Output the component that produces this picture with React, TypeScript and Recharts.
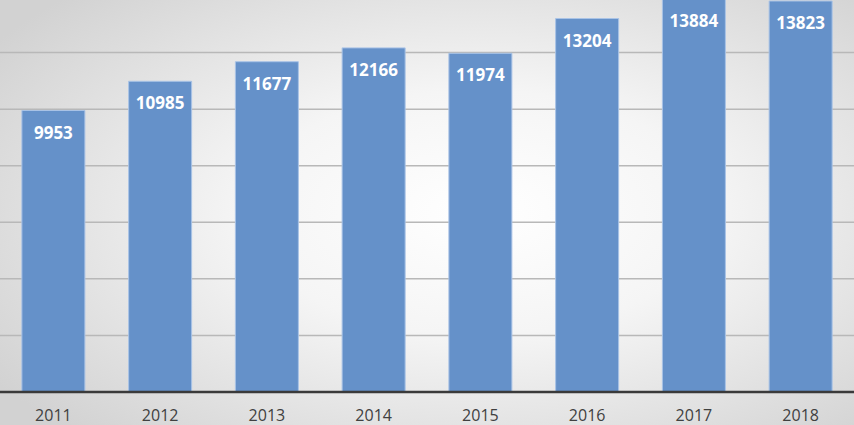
import React from 'react';
import { BarChart, Bar, XAxis, YAxis, CartesianGrid, LabelList } from 'recharts';

const years = ['2011', '2012', '2013', '2014', '2015', '2016', '2017', '2018'];
const counts = [9953, 10985, 11677, 12166, 11974, 13204, 13884, 13823];
const yTicks = [0, 2000, 4000, 6000, 8000, 10000, 12000, 14000];

const data = years.map((year, i) => ({ year, count: counts[i] }));

export default function App() {
  return (
    <div
      style={{
        position: 'absolute',
        left: 0,
        top: 0,
        width: 854,
        height: 425,
        overflow: 'hidden',
        background: 'radial-gradient(ellipse 68% 72% at 56% 50%, #ffffff 0%, #f5f5f5 40%, #d2d2d2 100%)',
      }}
    >
      <div style={{ position: 'absolute', left: 0, top: -4 }}>
        <BarChart
          width={854}
          height={429}
          data={data}
          margin={{ top: 0, right: 0, bottom: 0, left: 0 }}
          barCategoryGap="20.5%"
        >
          <CartesianGrid vertical={false} stroke="#b8b8b8" strokeWidth={1.5} />
          <YAxis hide domain={[0, 14000]} ticks={yTicks} />
          <XAxis
            dataKey="year"
            height={33}
            tickLine={false}
            tickSize={0}
            tickMargin={18}
            axisLine={{ stroke: '#3a3a3a', strokeWidth: 2.5 }}
            tick={{ fill: '#404040', fontSize: 16, fontFamily: '"Open Sans", sans-serif' }}
          />
          <Bar dataKey="count" fill="#6591c9" stroke="#a9c3e6" strokeWidth={1} isAnimationActive={false}>
            <LabelList
              dataKey="count"
              position="insideTop"
              offset={16}
              fill="#ffffff"
              style={{ fontSize: 17, fontWeight: 700, fontFamily: '"Open Sans", sans-serif' }}
            />
          </Bar>
        </BarChart>
      </div>
    </div>
  );
}
